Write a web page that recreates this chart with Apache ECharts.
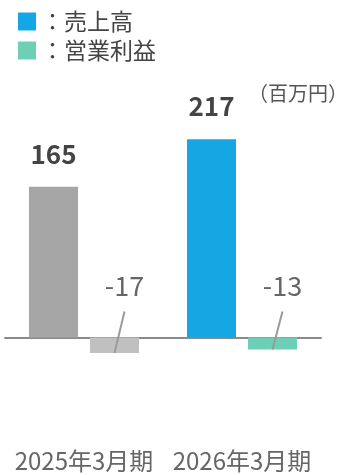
<!DOCTYPE html>
<html>
<head>
<meta charset="utf-8">
<script src="https://cdn.jsdelivr.net/npm/echarts@6/dist/echarts.min.js"></script>
<style>
  html, body { margin: 0; padding: 0; background: #fff; }
  #chart { width: 341px; height: 475px; }
</style>
</head>
<body>
<div id="chart"></div>
<script>
const categories = ['2025年3月期', '2026年3月期'];
const seriesNames = ['売上高', '営業利益'];
const sales = [165, 217];
const opProfit = [-17, -13];
const unitLabel = '（百万円）';

const FONT = '"Noto Sans CJK JP", "Noto Sans", sans-serif';
const BAR_W = 49;
const BAR_GAP = 12;

const chart = echarts.init(document.getElementById('chart'));

// leader line + value text for the small negative bars
function leaderItem(params, api) {
  const base = api.coord([api.value(0), 0]);
  const end = api.coord([api.value(0), api.value(1)]);
  const x = base[0] + (BAR_W + BAR_GAP) / 2;
  const topY = base[1] - 26;
  return {
    type: 'group',
    children: [
      {
        type: 'line',
        shape: { x1: x, y1: end[1], x2: x + 10, y2: topY },
        style: { stroke: '#9a9a9a', lineWidth: 2 }
      },
      {
        type: 'text',
        style: {
          x: x + 10, y: topY - 26,
          text: String(api.value(1)),
          fill: '#666',
          font: '27px ' + FONT,
          align: 'center',
          verticalAlign: 'middle'
        }
      }
    ]
  };
}

chart.setOption({
  animation: false,
  legend: {
    orient: 'vertical',
    left: 18,
    top: 10,
    padding: 0,
    itemWidth: 18,
    itemHeight: 18,
    itemGap: 6,
    icon: 'rect',
    data: seriesNames,
    formatter: '：{name}',
    textStyle: { fontSize: 23, color: '#444', fontFamily: FONT }
  },
  title: {
    text: unitLabel,
    right: -7,
    top: 83,
    padding: 0,
    textStyle: { fontSize: 20, fontWeight: 'normal', color: '#555', fontFamily: FONT }
  },
  grid: { left: 5, right: 20, top: 109, bottom: 46 },
  xAxis: [
    {
      type: 'category',
      data: categories,
      axisLine: { onZero: true, lineStyle: { color: '#8a8a8a', width: 2 } },
      axisTick: { show: false },
      axisLabel: { show: false }
    },
    {
      type: 'category',
      data: categories,
      position: 'bottom',
      axisLine: { show: false, onZero: false },
      axisTick: { show: false },
      axisLabel: { interval: 0, margin: 20, fontSize: 24, color: '#666', fontFamily: FONT }
    }
  ],
  yAxis: {
    type: 'value',
    min: -100,
    max: 250,
    show: false
  },
  series: [
    {
      name: seriesNames[0],
      type: 'bar',
      barWidth: BAR_W,
      barGap: (BAR_GAP / BAR_W * 100) + '%',
      itemStyle: { color: '#14a7e4' },
      data: sales.map((v, i) => i === 0 ? { value: v, itemStyle: { color: '#a6a6a6' } } : v),
      label: {
        show: true,
        position: 'top',
        distance: 20,
        fontSize: 26,
        fontWeight: 'bold',
        color: '#444',
        fontFamily: FONT
      }
    },
    {
      name: seriesNames[1],
      type: 'bar',
      barWidth: BAR_W,
      itemStyle: { color: '#6dd0b6' },
      data: opProfit.map((v, i) => i === 0 ? { value: v, itemStyle: { color: '#c0c0c0' } } : v)
    },
    {
      type: 'custom',
      renderItem: leaderItem,
      data: opProfit.map((v, i) => [i, v]),
      z: 5,
      silent: true
    }
  ]
});
</script>
</body>
</html>
